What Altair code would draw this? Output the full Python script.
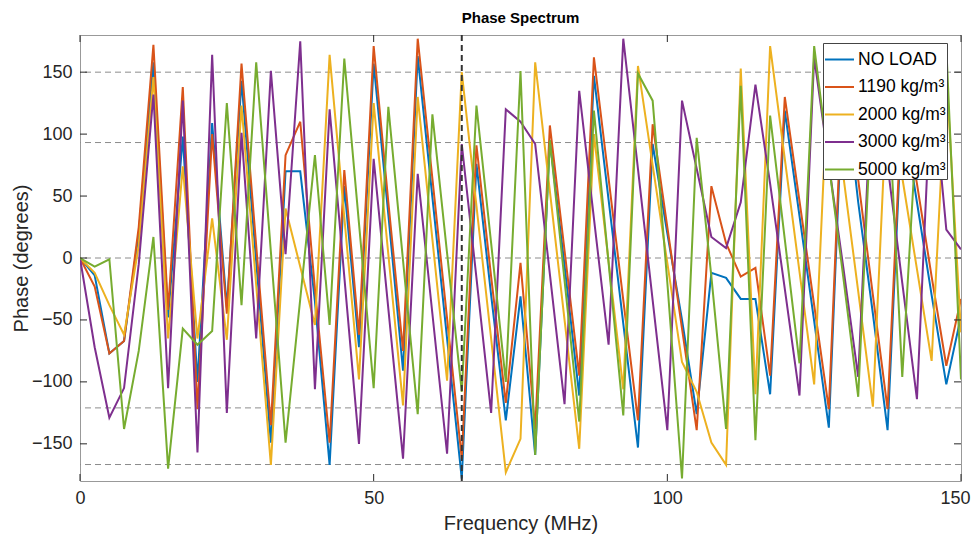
import altair as alt
import pandas as pd

# ---- data ----
freq = [0, 2.5, 5, 7.5, 10, 12.5, 15, 17.5, 20, 22.5,
        25, 27.5, 30, 32.5, 35, 37.5, 40, 42.5, 45, 47.5,
        50, 52.5, 55, 57.5, 60, 62.5, 65, 67.5, 70, 72.5,
        75, 77.5, 80, 82.5, 85, 87.5, 90, 92.5, 95, 97.5,
        100, 102.5, 105, 107.5, 110, 112.5, 115, 117.5, 120, 122.5,
        125, 127.5, 130, 132.5, 135, 137.5, 140, 142.5, 145, 147.5,
        150]

no_load = [0, -14, -77, -67, 20, 158, -48, 98, -100, 109,
           -40, 143, -3, -149, 70, 70, -35, -167, 58, -72,
           157, 35, -91, 163, 49, -65, -178, 76, -30, -131,
           -31, -159, 95, -6, -111, 147, 47, -53, -153, 92,
           20, -50, -126, -12, -16, -33, -33, -110, 119, 34,
           -51, -137, 150, 45, -45, -139, 120, 45, -30, -102,
           -47]

load_1190 = [0, -23, -77, -67, 25, 172, -42, 138, -122, 100,
             -45, 157, 10, -135, 83, 110, -25, -149, 71, -62,
             171, 45, -75, 177, 64, -49, -162, 91, -15, -117,
             -4, -138, 107, 6, -95, 162, 64, -34, -131, 108,
             25, -57, -139, 58, 12, -15, -8, -95, 130, 46,
             -38, -122, 160, 63, -30, -122, 130, 60, -15, -87,
             -33]

load_2000 = [0, -12, -38, -62, 10, 146, -65, 74, -65, 32,
             -66, 123, -22, -167, 40, -7, -54, 164, 33, -98,
             125, 3, -119, 130, 15, -99, 150, 42, -65, -173,
             -146, 158, 54, -50, -154, 100, -3, -106, 155, 75,
             -4, -84, -108, -149, -167, 153, -110, 171, 80, -11,
             -102, 160, 65, -27, -120, 140, 65, -9, -83, 150,
             -60]

load_3000 = [0, -72, -129, -105, -5, 132, -105, 127, -157, 164,
             -125, 101, -65, 151, 3, 175, -106, 120, -15, -150,
             80, -41, -162, 68, -45, -158, 92, -16, -125, 120,
             110, 92, -13, -118, 135, 32, -70, 177, 72, -34,
             -139, 127, 72, 17, 8, 45, 140, 60, -25, -111,
             162, 76, -9, -96, 160, 75, -20, -114, 150, 23,
             7]

load_5000 = [0, -7, -1, -138, -75, 17, -170, -57, -70, -59,
             125, -38, 158, 5, -149, -33, 83, -54, 161, 28,
             -105, 122, -2, -126, 116, 4, -108, 123, 12, -100,
             151, -159, 95, -18, -132, 119, -4, -127, 149, 127,
             -20, -178, 97, -15, -138, 139, -147, 115, 15, -85,
             171, 76, -17, -112, 145, 140, -96, 110, 150, 170,
             -98]

series_names = ["NO LOAD", "1190 kg/m³", "2000 kg/m³", "3000 kg/m³", "5000 kg/m³"]
series_colors = ["#0072BD", "#D95319", "#EDB120", "#7E2F8E", "#77AC30"]

hline_values = [150, 93.2, 0, -121, -166.7]
vline_values = [65]
x_ticks = [0, 50, 100, 150]
y_ticks = [-150, -100, -50, 0, 50, 100, 150]

# ---- build tables ----
rows = []
for k, (name, vals) in enumerate(zip(series_names,
                                     [no_load, load_1190, load_2000, load_3000, load_5000])):
    for f, v in zip(freq, vals):
        rows.append({"freq": f, "phase": v, "series": name, "k": k})
df = pd.DataFrame(rows)

W, H = 881, 446
FONT = "Liberation Sans"
xs = alt.Scale(domain=[0, 150], nice=False, zero=False)
ys = alt.Scale(domain=[-180, 180], nice=False, zero=False)
XAX = alt.Axis(values=x_ticks, title="Frequency (MHz)", format="d", labelFlush=False,
               labelOffset={"condition": {"test": "datum.value == 150", "value": -6},
                            "value": 0})
YAX = alt.Axis(values=y_ticks, title="Phase (degrees)", format="d", labelFlush=False)

hlines = alt.Chart(pd.DataFrame({"y": hline_values})).mark_rule(
    color="#8c8c8c", strokeWidth=1, strokeDash=[6, 4]
).encode(y=alt.Y("y:Q", scale=ys, axis=YAX))

lines = alt.Chart(df).mark_line(strokeWidth=2, clip=True).encode(
    x=alt.X("freq:Q", scale=xs, axis=XAX),
    y=alt.Y("phase:Q", scale=ys, axis=YAX),
    color=alt.Color("series:N",
                    scale=alt.Scale(domain=series_names, range=series_colors),
                    legend=alt.Legend(title=None, orient="none", legendX=743, legendY=8,
                                      fillColor="white", strokeColor="#444444",
                                      padding=1, symbolType="stroke", symbolSize=841,
                                      symbolStrokeWidth=2, labelFontSize=17.5,
                                      labelFont=FONT, labelColor="#000000",
                                      rowPadding=3.5, labelOffset=3, labelLimit=200)),
    detail="k:O",
)

vline = alt.Chart(pd.DataFrame({"x": vline_values})).mark_rule(
    color="#333333", strokeWidth=2, strokeDash=[6, 4]
).encode(x=alt.X("x:Q", scale=xs, axis=XAX))

xt = pd.DataFrame({"t": x_ticks})
yt = pd.DataFrame({"t": y_ticks})
tick_color = "#262626"
tb = alt.Chart(xt).mark_rule(color=tick_color).encode(
    x=alt.X("t:Q", scale=xs, axis=XAX), y=alt.value(H), y2=alt.value(H - 7))
tt = alt.Chart(xt).mark_rule(color=tick_color).encode(
    x=alt.X("t:Q", scale=xs, axis=XAX), y=alt.value(0), y2=alt.value(7))
tl = alt.Chart(yt).mark_rule(color=tick_color).encode(
    y=alt.Y("t:Q", scale=ys, axis=YAX), x=alt.value(0), x2=alt.value(7))
tr = alt.Chart(yt).mark_rule(color=tick_color).encode(
    y=alt.Y("t:Q", scale=ys, axis=YAX), x=alt.value(W), x2=alt.value(W - 7))

chart = alt.layer(hlines, lines, vline, tb, tt, tl, tr).properties(
    width=W, height=H,
    title=alt.TitleParams("Phase Spectrum", fontSize=15, fontWeight="bold",
                          font=FONT, color="#000000", offset=8, anchor="middle"),
    padding={"left": 72, "top": 27, "right": 10, "bottom": 62},
    autosize=alt.AutoSizeParams(type="none"),
).configure_view(
    stroke="#999999", strokeWidth=1
).configure_axis(
    grid=False, domain=False, ticks=False,
    labelFont=FONT, labelFontSize=18, labelColor="#262626",
    titleFont=FONT, titleFontSize=20, titleFontWeight="normal", titleColor="#262626",
    labelPadding=8,
).configure_axisX(titlePadding=6).configure_axisY(titlePadding=0)

chart.save("out.html", embed_options={"renderer": "svg", "actions": False})
